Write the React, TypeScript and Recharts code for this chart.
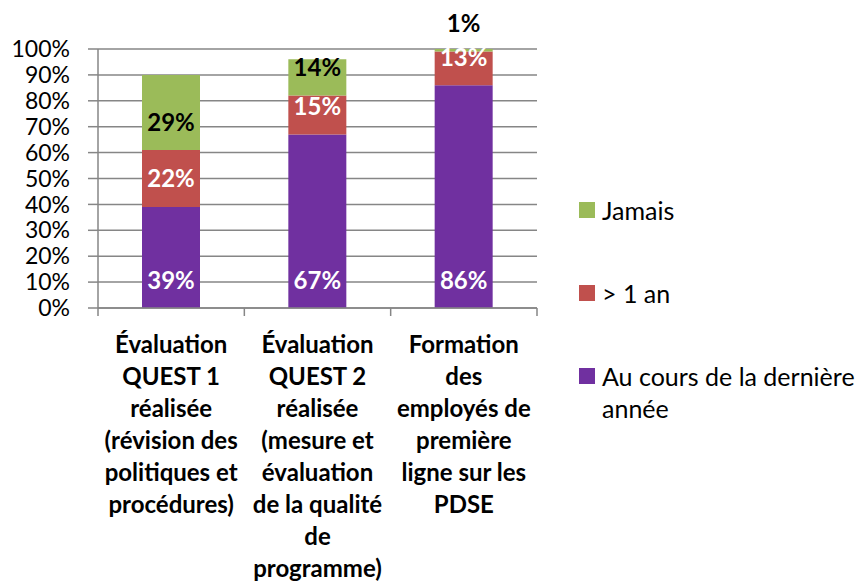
import { Bar, BarChart, CartesianGrid, LabelList, Legend, XAxis, YAxis } from 'recharts';

const categoryLines = [
  ['Évaluation', 'QUEST 1', 'réalisée', '(révision des', 'politiques et', 'procédures)'],
  ['Évaluation', 'QUEST 2', 'réalisée', '(mesure et', 'évaluation', 'de la qualité', 'de', 'programme)'],
  ['Formation', 'des', 'employés de', 'première', 'ligne sur les', 'PDSE'],
];
const derniereAnnee = [39, 67, 86];
const plusUnAn = [22, 15, 13];
const jamais = [29, 14, 1];
const yTicks = [0, 10, 20, 30, 40, 50, 60, 70, 80, 90, 100];

const series = [
  { key: 'derniere', name: 'Au cours de la dernière année', color: '#7030A0', labelColor: '#ffffff' },
  { key: 'plus', name: '> 1 an', color: '#C0504D', labelColor: '#ffffff' },
  { key: 'jamais', name: 'Jamais', color: '#9BBB59', labelColor: '#000000' },
];

const data = categoryLines.map((lines, i) => ({
  name: lines.join(' '),
  lines,
  derniere: derniereAnnee[i],
  plus: plusUnAn[i],
  jamais: jamais[i],
}));

const FONT = 'Lato, "Open Sans", sans-serif';
const AXIS = '#868686';

function CategoryTick(props: any) {
  const { x, y, payload, index, width, visibleTicksCount } = props;
  const band = width / visibleTicksCount;
  const lines = data[index]?.lines ?? [payload.value];
  const top = y - 8;
  return (
    <g>
      <line x1={x - band / 2} x2={x - band / 2} y1={top} y2={top + 8} stroke={AXIS} strokeWidth={1.5} />
      {index === visibleTicksCount - 1 && (
        <line x1={x + band / 2} x2={x + band / 2} y1={top} y2={top + 8} stroke={AXIS} strokeWidth={1.5} />
      )}
      {lines.map((line: string, i: number) => (
        <text
          key={i}
          x={x}
          y={top + 35 + i * 32}
          textAnchor="middle"
          dominantBaseline="central"
          fontFamily={FONT}
          fontWeight={700}
          fontSize={24}
          fill="#000"
        >
          {line}
        </text>
      ))}
    </g>
  );
}

// labels sit just above the base of each segment ("inside base")
const baseLabel = (color: string) => (props: any) => {
  const { x, y, width, height, value } = props;
  return (
    <text
      x={x + width / 2}
      y={y + height - 29}
      textAnchor="middle"
      dominantBaseline="central"
      fontFamily={FONT}
      fontWeight={700}
      fontSize={24}
      fill={color}
    >
      {value}%
    </text>
  );
};

function LegendBox() {
  const items = [...series].reverse();
  return (
    <div style={{ fontFamily: FONT, fontSize: 25, lineHeight: '32px', color: '#000' }}>
      {items.map((s) => (
        <div key={s.key} style={{ display: 'flex', alignItems: 'flex-start', marginBottom: 51 }}>
          <span
            style={{
              display: 'inline-block',
              width: 16,
              height: 16,
              marginTop: 8,
              marginRight: 7,
              background: s.color,
              flex: 'none',
            }}
          />
          <span style={{ width: 275, whiteSpace: 'normal' }}>{s.name}</span>
        </div>
      ))}
    </div>
  );
}

export default function App() {
  return (
    <div
      style={{
        position: 'absolute',
        left: 0,
        top: 0,
        width: 865,
        height: 581,
        overflow: 'hidden',
        background: '#fff',
        fontFamily: FONT,
      }}
    >
      <BarChart width={865} height={581} data={data} margin={{ top: 49, right: 328, bottom: 0, left: 0 }}>
        <CartesianGrid vertical={false} stroke={AXIS} strokeWidth={1.5} />
        <XAxis
          dataKey="name"
          height={273}
          interval={0}
          stroke={AXIS}
          strokeWidth={1.5}
          tickLine={false}
          tickSize={8}
          tickMargin={0}
          tick={<CategoryTick />}
        />
        <YAxis
          width={98}
          domain={[0, 100]}
          ticks={yTicks}
          interval={0}
          stroke={AXIS}
          strokeWidth={1.5}
          tickSize={10}
          tickMargin={18}
          tickFormatter={(v: number) => `${v}%`}
          tick={{ fill: '#000', fontSize: 23, fontFamily: FONT }}
        />
        <Legend
          layout="vertical"
          align="center"
          verticalAlign="middle"
          wrapperStyle={{ left: 579, top: 194, width: 300 }}
          content={() => <LegendBox />}
        />
        {series.map((s) => (
          <Bar key={s.key} dataKey={s.key} name={s.name} stackId="a" fill={s.color} barSize={58} isAnimationActive={false}>
            <LabelList dataKey={s.key} content={baseLabel(s.labelColor)} />
          </Bar>
        ))}
      </BarChart>
    </div>
  );
}
